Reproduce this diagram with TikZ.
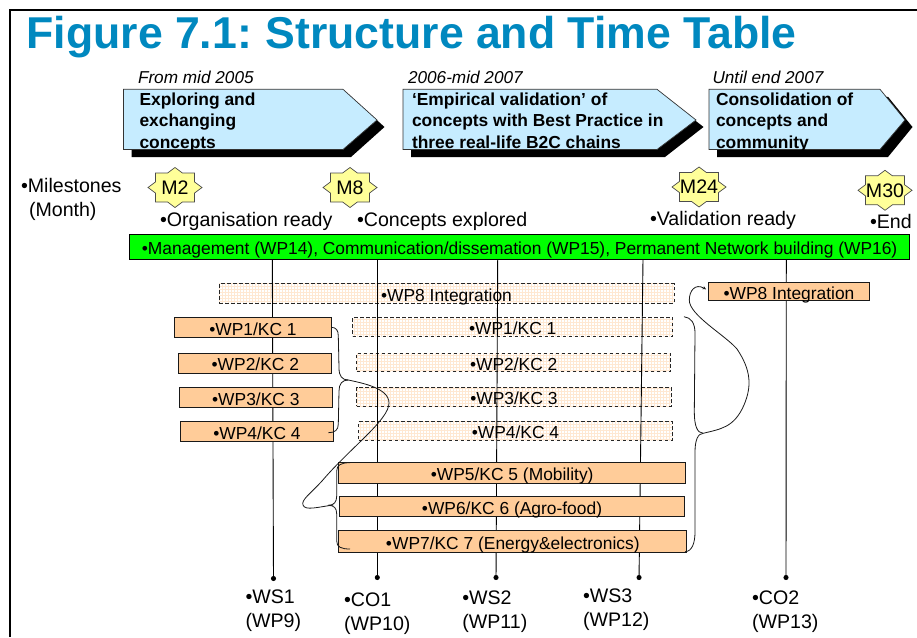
\documentclass[tikz,border=0pt]{standalone}
\usepackage{fontspec}
\setmainfont{Liberation Sans}
\usetikzlibrary{arrows.meta}
\usetikzlibrary{patterns}

\definecolor{titleblue}{HTML}{0088BF}
\definecolor{phaseblue}{HTML}{C6ECFF}
\definecolor{starfill}{HTML}{FFFF99}
\definecolor{barorange}{HTML}{FFCC99}
\definecolor{gridorange}{HTML}{FFE8D2}
\definecolor{paleorange}{HTML}{FFF7EF}

\tikzset{
  txt/.style={anchor=base west, inner sep=0pt, outer sep=0pt, align=left},
  small/.style={font=\fontsize{17.4}{21.5}\selectfont},
  big/.style={font=\fontsize{19.6}{24}\selectfont},
  bold/.style={font=\fontsize{17.4}{21.5}\bfseries\selectfont},
  slant/.style={font=\fontsize{17.2}{21.5}\itshape\selectfont},
  barbase/.style={inner sep=0pt, small, text height=15.4pt, text depth=0pt},
  solidbar/.style={barbase, draw=black!90, line width=1pt, fill=barorange},
  dashbar/.style={barbase, draw=black!85, line width=0.9pt, dash pattern=on 3.5pt off 2.5pt, fill=paleorange,
    pattern=grid, pattern color=gridorange},
  brace/.style={draw=black!90, line width=0.8pt},
  track/.style={draw=black, line width=0.9pt, -{Circle[length=5pt]}}
}

\begin{document}
\begin{tikzpicture}[x=1pt, y=-1pt]
  \useasboundingbox (0,0) rectangle (917,637);

  % frame and title
  \draw[line width=2pt] (9.5,637) -- (9.5,9.5) -- (917,9.5);
  \node[txt, font=\fontsize{44.6}{50}\bfseries\selectfont, text=titleblue] (title) at (26.5,48) {Figure 7.1:\hspace{-3pt} Structure and Time Table};

  % phases
  \foreach \l/\n/\t in {123.5/343/377, 403/657/696, 709/880/905} {
    \fill (\l+8,89.3+7.5) -- (\n+8,89.3+7.5) -- (\t+7.5,120+7) -- (\n+8,149.5+7.5) -- (\l+8,149.5+7.5) -- cycle;
    \draw[fill=phaseblue, draw=black!80, line width=0.7pt] (\l,89.3) -- (\n,89.3) -- (\t,120) -- (\n,149.5) -- (\l,149.5) -- cycle;
  }
  \node[txt, slant] (from1) at (138,83) {From mid 2005};
  \node[txt, slant] (from2) at (408,83) {2006-mid 2007};
  \node[txt, slant] (from3) at (712.5,83) {Until end 2007};
  \node[txt, bold] (phase1) at (139.5,148) {Exploring and\\exchanging\\concepts};
  \node[txt, bold] (phase2) at (412,148) {‘Empirical validation’ of\\concepts with Best Practice in\\three real-life B2C chains};
  \node[txt, bold] (phase3) at (716,148) {Consolidation of\\concepts and\\community};

  % milestones
  \foreach \x/\y/\m in {175/187.5/M2, 350/187.5/M8, 699/187/M24, 885/190.3/M30} {
    \draw[fill=starfill, draw=black!70, line width=0.7pt]
      (\x+27,\y) -- (\x+19.5,\y+5.6) -- (\x+19.5,\y+14.5) -- (\x+7.4,\y+14.5) -- (\x,\y+20)
      -- (\x-7.4,\y+14.5) -- (\x-19.5,\y+14.5) -- (\x-19.5,\y+5.6) -- (\x-27,\y)
      -- (\x-19.5,\y-5.6) -- (\x-19.5,\y-14.5) -- (\x-7.4,\y-14.5) -- (\x,\y-20)
      -- (\x+7.4,\y-14.5) -- (\x+19.5,\y-14.5) -- (\x+19.5,\y-5.6) -- cycle;
    \node[big, inner sep=0pt] (\m) at (\x,\y) {\m};
  }
  \node[txt, big] (miles) at (21,216) {•Milestones\\\hspace*{8pt}(Month)};
  \node[txt, big] (ready1) at (160,226.6) {•Organisation ready};
  \node[txt, big] (ready2) at (357,226.6) {•Concepts explored};
  \node[txt, big] (ready3) at (650,225.7) {•Validation ready};
  \node[txt, big] (ready4) at (870,228) {•End};

  % dashed bars sit under the work stream lines
  \node[dashbar, minimum width=455pt, minimum height=19.6pt] (int1) at (446.5,293.5) {•WP8 Integration};
  \node[dashbar, minimum width=320pt, minimum height=19pt] (kc1) at (512.7,326.8) {•WP1/KC 1};
  \node[dashbar, minimum width=314pt, minimum height=18.4pt] (kc2) at (513.7,362.5) {•WP2/KC 2};
  \node[dashbar, minimum width=314.6pt, minimum height=19pt] (kc3) at (514,396.8) {•WP3/KC 3};
  \node[dashbar, minimum width=313.6pt, minimum height=18.6pt] (kc4) at (515.5,431) {•WP4/KC 4};

  % work streams
  \coordinate (top1) at (272.3,259);
  \coordinate (top2) at (377.3,259);
  \coordinate (top3) at (497.7,259);
  \coordinate (top4) at (643,259);
  \coordinate (top5) at (786.3,259);
  \coordinate (end1) at (273.5,581);
  \coordinate (end2) at (377.3,580);
  \coordinate (end3) at (496,580);
  \coordinate (end4) at (639,580);
  \coordinate (end5) at (786,580);
  \draw[track] (top1) -- (end1);
  \draw[track] (top2) -- (end2);
  \draw[track] (top3) -- (end3);
  \draw[track] (top4) -- (end4);
  \draw[track] (top5) -- (end5);

  \node[txt, big] (ws1) at (245.5,627.7) {•WS1\\(WP9)};
  \node[txt, big] (co1) at (344,630.7) {•CO1\\(WP10)};
  \node[txt, big] (ws2) at (462.3,628.3) {•WS2\\(WP11)};
  \node[txt, big] (ws3) at (583,626.7) {•WS3\\(WP12)};
  \node[txt, big] (co2) at (752,628.3) {•CO2\\(WP13)};

  \node[draw=black, line width=0.6pt, fill=green, barbase, minimum width=780pt, minimum height=25.3pt] (mgmt) at (519.6,246.6) {•Management (WP14), Communication/dissemation (WP15), Permanent Network building (WP16)};

  % solid bars
  \node[solidbar, minimum width=160.6pt, minimum height=18.4pt] (int2) at (789,291.5) {•WP8 Integration};
  \node[solidbar, minimum width=156.6pt, minimum height=20pt] (left1) at (253,327.3) {•WP1/KC 1};
  \node[solidbar, minimum width=153.3pt, minimum height=20pt] (left2) at (255.3,363) {•WP2/KC 2};
  \node[solidbar, minimum width=153pt, minimum height=20pt] (left3) at (255.8,397.3) {•WP3/KC 3};
  \node[solidbar, minimum width=153.4pt, minimum height=20pt] (left4) at (257,431.3) {•WP4/KC 4};
  \node[solidbar, minimum width=347pt, minimum height=21pt] (kc5) at (512.2,472.8) {•WP5/KC 5 (Mobility)};
  \node[solidbar, minimum width=345.4pt, minimum height=19.7pt] (kc6) at (512,506.8) {•WP6/KC 6 (Agro-food)};
  \node[solidbar, minimum width=348.3pt, minimum height=22.3pt] (kc7) at (512.8,541.8) {•WP7/KC 7 (Energy\&electronics)};

  % braces
  \coordinate (tip1) at (348.3,380);
  \coordinate (tip2) at (328.3,505.3);
  \coordinate (tip3) at (703.3,433.3);
  \draw[brace] (331.3,327.3) .. controls (336,327.5) and (338.3,330) .. (338.3,336)
    -- (339,368) .. controls (339,376) and (342,380) .. (tip1);
  \draw[brace] (tip1) .. controls (342,380) and (339,384) .. (339,391)
    -- (338.3,424) .. controls (338.3,430) and (335,432.7) .. (328.3,432.7);
  \draw[brace] (350,462.7) .. controls (341,462.7) and (336.7,465) .. (336.7,471)
    -- (336.7,496) .. controls (336.7,502) and (334,505.3) .. (tip2);
  \draw[brace] (tip2) .. controls (334,505.3) and (336.7,508) .. (336.7,514)
    -- (336.7,541) .. controls (336.7,547) and (341,549) .. (350,549);
  \draw[brace] (684,316.7) .. controls (691,317.5) and (695,323) .. (695,333)
    -- (694.3,412) .. controls (694.3,425) and (697,433.3) .. (tip3);
  \draw[brace] (tip3) .. controls (698,433.3) and (695,440) .. (695,452)
    -- (695,532) .. controls (695,543) and (692,551.5) .. (685,551.7);

  % links between the braces and the bars
  \draw[brace] (tip1) .. controls (362,383) and (389,388) .. (389,403)
    .. controls (389,420) and (350,448) .. (322,481)
    .. controls (310,494) and (301,500) .. (303,505)
    .. controls (305,511) and (318,507) .. (333.3,505);
  \draw[brace, -{Stealth[length=3.5pt,width=3.5pt]}] (tip3) .. controls (720,429) and (734,428) .. (744,405)
    .. controls (752,386) and (751,370) .. (737,349)
    .. controls (725,335) and (689,315) .. (689.3,300)
    .. controls (689.3,291) and (695,283) .. (706,289.3);
\end{tikzpicture}
\end{document}
